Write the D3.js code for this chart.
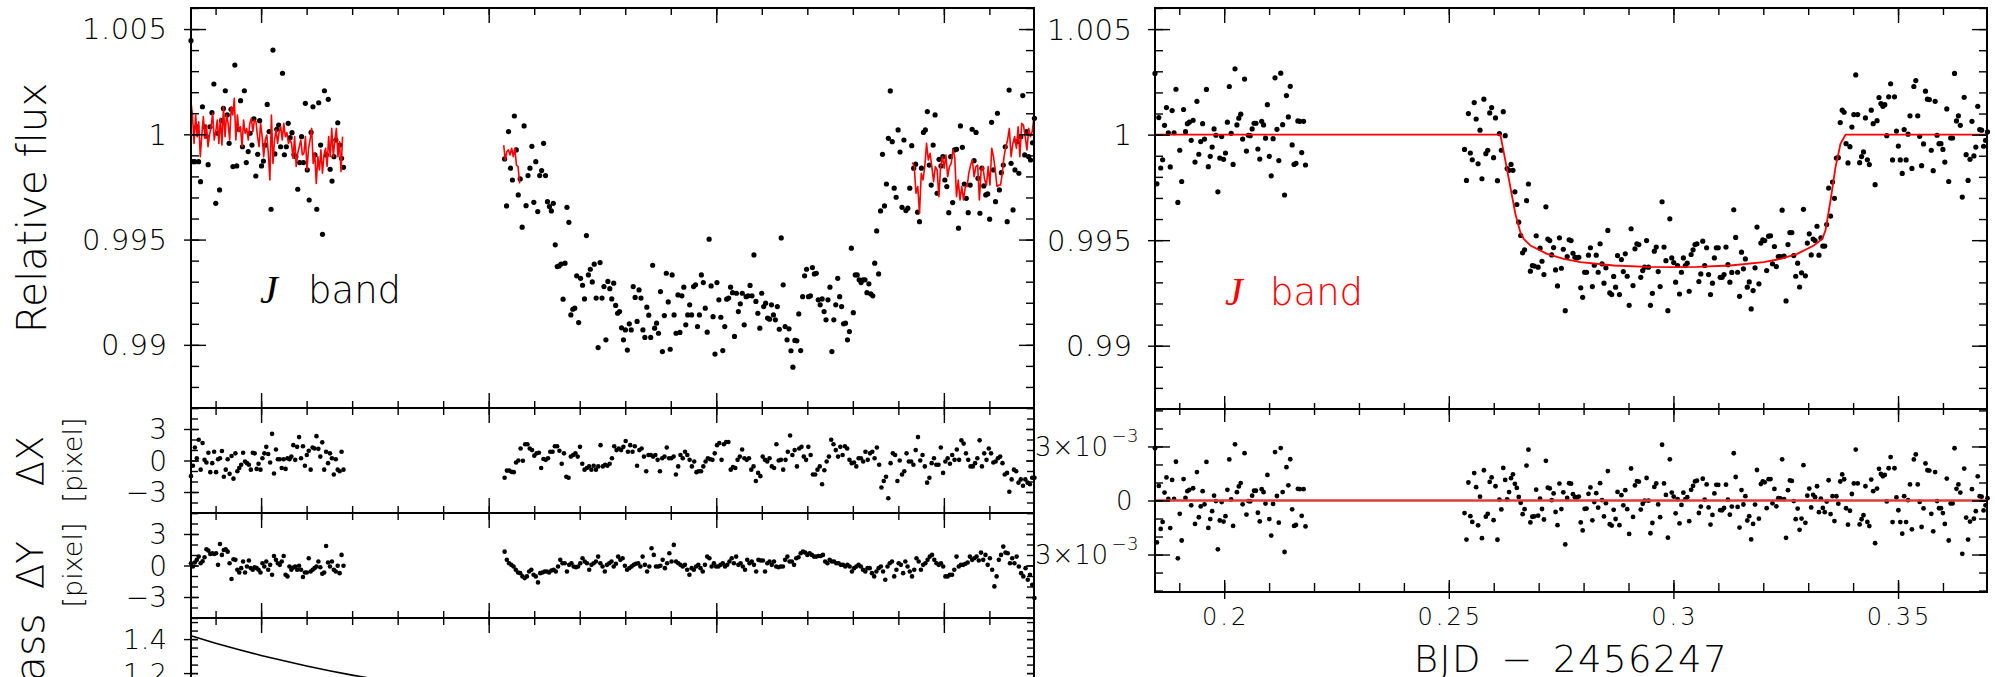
<!DOCTYPE html>
<html>
<head>
<meta charset="utf-8">
<script src="https://cdn.jsdelivr.net/npm/d3@7"></script>
<style>
  body { margin: 0; background: #fff; }
  svg { display: block; }
  .lbl { font-family: "DejaVu Sans", sans-serif; font-weight: 200; fill: #000; }
</style>
</head>
<body>
<div id="chart"></div>
<script>
// ---------------- data ----------------
// time is BJD - 2456247 (days); flux values are (relative flux - 1) in parts per thousand

// time ranges covered by the two observing blocks
const preSpan = [0.1846, 0.2181];
const postSpan = [0.2535, 0.3699];

// raw relative flux (left panel)
const rawPre = [4.45,-1.30,-1.30,0.36,-1.30,-2.25,1.31,0.36,-0.08,-1.44,0.36,1.03,2.39,-3.28,0.05,-2.64,0.65,1.23,2.07,0.92,-0.43,1.19,-1.53,3.29,-1.50,0.24,1.60,-0.59,2.07,-1.34,-0.82,0.05,-0.51,0.73,-1.98,-0.95,0.65,-1.50,-1.27,-0.51,1.42,0.13,-3.56,4.00,-0.93,0.24,0.44,-0.59,2.90,-0.97,-0.59,0.52,-0.16,0.08,-0.97,-1.06,-2.61,-1.34,-0.11,-1.34,1.47,-1.69,-3.12,0.09,1.31,-0.98,-3.56,1.50,-0.51,-4.75,2.07,-0.98,1.66,-1.66,-2.22,-1.06,-0.27,0.55,-0.51,-1.14,-1.57];
const rawPost = [-1.17,-3.40,0.13,-1.61,-2.17,0.87,-0.74,-2.88,-2.12,-4.41,0.40,-3.39,-1.96,-1.61,-0.57,-3.23,-1.30,-3.67,-1.96,-1.72,-0.43,-1.96,-3.20,-3.43,-3.64,-3.28,-5.25,-6.28,-6.25,-6.16,-7.83,-6.12,-3.47,-4.18,-8.58,-8.31,-8.26,-6.72,-8.94,-6.84,-7.17,-7.82,-4.81,-6.68,-6.41,-7.01,-6.17,-7.78,-10.13,-6.09,-7.78,-7.23,-9.76,-6.99,-7.33,-7.82,-7.07,-8.13,-8.50,-8.42,-9.19,-9.76,-9.29,-10.25,-9.00,-9.29,-7.23,-7.75,-8.89,-7.39,-7.78,-9.29,-9.65,-8.21,-8.59,-9.65,-6.22,-9.21,-8.97,-9.45,-7.47,-10.32,-8.61,-6.60,-7.96,-10.21,-6.68,-8.58,-9.45,-7.63,-9.41,-7.67,-7.26,-9.05,-8.58,-8.10,-8.58,-7.23,-7.15,-9.13,-8.58,-6.68,-7.04,-8.26,-9.40,-4.98,-7.20,-8.66,-10.44,-7.04,-7.86,-8.69,-10.27,-9.13,-7.83,-7.78,-7.26,-7.52,-9.60,-7.55,-8.42,-8.05,-7.55,-9.05,-7.71,-7.67,-7.18,-7.67,-5.73,-7.94,-8.50,-9.21,-7.55,-8.18,-8.02,-8.73,-8.78,-8.10,-8.58,-8.81,-8.18,-9.26,-4.92,-7.15,-9.13,-9.76,-9.24,-10.28,-11.06,-9.79,-9.81,-8.53,-10.27,-7.71,-6.72,-6.41,-7.71,-7.67,-6.33,-6.63,-6.60,-7.86,-8.10,-7.82,-8.42,-8.81,-7.86,-7.26,-10.32,-8.81,-8.10,-6.84,-7.71,-8.18,-9.00,-8.97,-9.76,-9.37,-5.41,-8.47,-6.68,-6.68,-6.91,-7.04,-6.91,-6.91,-7.52,-7.10,-7.58,-7.67,-6.12,-4.59,-6.63,-3.64,-0.95,-3.40,-2.36,-0.19,2.06,-0.35,-2.56,-2.99,0.21,-0.84,-3.47,-0.27,-3.62,-3.51,-2.56,-0.54,-1.61,-1.42,-3.70,-4.15,-1.61,0.09,0.21,1.08,-1.46,-2.41,-0.51,0.92,-2.80,-1.19,-1.50,-1.06,-2.17,-2.48,-3.72,-1.06,-3.24,-0.74,-0.71,-4.46,0.40,-0.62,-2.36,-3.04,-3.72,-2.41,0.24,-1.25,0.09,-2.09,-3.75,-1.61,-2.45,-2.88,-2.83,-4.03,0.57,-1.69,-3.20,1.00,-2.64,-1.82,-1.46,-0.59,-4.15,2.10,-1.38,-3.59,-1.69,-0.35,-1.85,-0.11,1.84,-0.98,0.13,-1.06,-1.22,-0.40,0.76];

// baseline (systematics) model, red line in the left panel
const basePreSpan = [0.1846, 0.2179];
const basePre = [1.55,0.84,-0.43,0.92,-0.11,0.60,-1.06,-0.03,0.84,-0.19,0.44,-0.59,-0.03,0.36,1.00,-0.27,0.13,0.68,-0.43,0.76,-0.51,1.31,-0.11,0.92,0.52,-0.27,1.31,0.92,1.71,-0.27,0.92,0.13,0.36,-0.59,0.68,0.05,0.28,-0.27,0.52,0.76,0.13,0.68,0.60,-0.11,-0.59,0.52,-0.11,-1.06,-0.27,-0.03,-0.90,-2.17,0.92,-1.38,-0.27,0.21,-0.43,0.13,0.36,-0.27,0.52,-0.11,0.08,-0.43,-0.27,-0.43,-1.14,-0.11,-1.53,-0.90,-0.59,-0.27,-0.98,-0.90,-0.11,-1.69,-0.66,-0.27,0.28,-1.38,-0.90,-2.33,-1.06,-1.69,-0.74,-1.85,-0.98,-0.66,-1.53,-0.11,-1.06,0.28,-1.06,-0.27,0.28,-1.06,-0.35,-1.77,-0.11];
const baseEarlySpan = [0.2533, 0.2568];
const baseEarly = [-0.51,-1.22,-0.82,-0.74,-0.98,-0.66,-1.06,-0.66,-1.46,-1.53,-2.33];
const baseLateSpan = [0.3431, 0.3698];
const baseLate = [-1.34,-1.53,-2.80,-2.48,-3.75,-1.85,-2.17,-1.53,-0.43,-1.22,-0.90,-1.53,-2.25,-1.53,-1.69,-2.96,-1.53,-1.06,-1.61,-0.98,-2.01,-1.53,-1.38,-0.74,-1.06,-2.96,-2.17,-3.12,-2.48,-3.12,-2.48,-2.48,-1.85,-1.46,-1.22,-2.01,-1.53,-1.46,-3.12,-1.69,-1.53,-2.17,-2.41,-1.53,-2.41,-0.66,-1.06,-1.69,-2.48,-2.41,-2.41,-1.85,-1.06,-0.59,-0.27,0.28,-1.06,-0.43,-0.11,-0.66,0.36,-1.06,0.52,0.44,-0.11,-0.74,0.28,-0.11,0.13,0.84];

// detrended relative flux (right panel)
const detPre = [2.90,-2.33,0.81,-1.58,-1.19,0.44,1.28,0.09,-1.53,1.14,0.09,2.15,-3.21,-0.74,-2.22,1.19,0.14,0.52,0.59,-0.27,0.68,-1.30,1.58,-0.93,-0.33,0.52,-0.21,2.14,-1.52,-1.03,-0.59,0.27,-0.03,-2.71,-1.11,-0.09,-1.17,-0.87,0.59,2.28,0.06,-1.41,3.12,0.46,0.78,0.97,-0.21,2.63,-0.78,-0.03,-0.05,0.27,0.54,0.54,-0.68,-1.16,0.63,0.46,-0.17,1.42,-1.03,-1.95,-0.19,2.69,0.25,-1.23,2.91,0.47,-2.86,1.85,0.84,2.29,-0.49,-1.41,-1.36,0.65,0.63,-0.85,0.63,-1.44];
const detPost = [-0.70,-2.17,1.00,-0.87,-1.19,1.52,0.74,-1.38,0.21,-2.09,1.68,-0.90,-0.74,1.03,1.28,-1.09,0.79,-2.18,0.05,-0.74,1.09,-0.05,-1.61,-1.69,-1.41,-1.69,-2.71,-3.31,-4.15,-4.78,-5.60,-5.46,-3.13,-2.34,-6.47,-6.20,-6.23,-4.79,-6.28,-5.38,-6.00,-6.63,-3.42,-4.95,-5.02,-5.70,-5.35,-6.41,-7.17,-4.89,-6.33,-5.43,-8.34,-5.78,-4.98,-5.02,-5.62,-5.81,-5.84,-5.81,-7.26,-7.71,-6.52,-6.52,-5.71,-5.36,-7.20,-6.19,-5.71,-6.52,-5.17,-6.12,-7.04,-6.31,-4.54,-7.50,-7.58,-6.72,-7.23,-5.73,-7.58,-5.92,-6.49,-5.65,-6.71,-8.09,-4.46,-7.15,-5.41,-5.17,-5.21,-6.76,-6.44,-6.28,-5.02,-6.28,-8.09,-7.52,-5.52,-5.33,-6.49,-7.20,-3.18,-5.33,-5.97,-8.34,-3.99,-5.84,-6.06,-6.99,-6.20,-7.55,-6.52,-5.84,-6.20,-6.09,-7.42,-5.68,-5.46,-5.21,-5.17,-6.96,-6.60,-5.05,-6.20,-5.36,-6.63,-7.58,-7.04,-5.84,-5.36,-5.36,-6.76,-6.76,-6.63,-5.33,-6.16,-6.99,-6.53,-3.56,-4.87,-6.52,-7.66,-5.57,-6.36,-5.89,-7.23,-6.98,-8.26,-7.39,-6.31,-4.38,-7.07,-5.14,-4.98,-5.02,-6.44,-4.81,-4.79,-6.12,-5.30,-6.25,-5.78,-5.78,-3.58,-5.76,-7.88,-5.21,-4.64,-4.64,-5.73,-6.71,-6.09,-7.22,-6.55,-3.54,-6.69,-5.14,-4.70,-5.70,-4.95,-5.02,-4.34,-5.71,-4.89,-5.28,-5.28,-4.26,-2.53,-3.86,-2.25,-3.02,-1.11,-1.09,0.57,1.16,1.06,-0.43,-1.34,-0.57,0.36,0.95,2.83,0.95,-1.33,-1.04,-0.82,0.79,-1.19,-1.42,1.16,0.52,-2.37,0.66,1.76,1.47,1.34,1.42,-0.05,1.79,2.41,-1.20,1.79,0.17,-0.54,-1.20,-1.84,0.24,-1.20,0.02,0.89,-1.60,2.28,2.56,0.89,-0.08,-1.47,-0.44,2.06,1.68,1.66,-0.74,-1.71,1.58,-0.03,-0.43,-0.43,-0.70,-1.30,1.22,-2.22,-0.16,-0.16,2.90,0.65,0.89,0.44,-2.96,1.77,-0.95,-2.17,-1.17,0.63,-1.01,-0.59,1.34,0.24,0.21,-0.55,-0.27,0.13];

// transit model (red curve, right panel)
const modelTime = [0.1846,0.26147,0.26258,0.26370,0.26481,0.26592,0.26667,0.26815,0.27187,0.27557,0.27929,0.28671,0.29414,0.30007,0.30527,0.31269,0.32011,0.32383,0.32755,0.33125,0.33312,0.33385,0.33497,0.33608,0.33719,0.33831,0.3699];
const modelFlux = [0,0,-1.22,-2.48,-3.75,-4.62,-4.94,-5.25,-5.65,-5.89,-6.04,-6.20,-6.27,-6.28,-6.27,-6.20,-6.04,-5.89,-5.65,-5.25,-4.94,-4.54,-3.12,-1.54,-0.43,0,0];

// centroid shifts (pixel)
const dxPre = [-1.49,-0.50,1.24,0.22,1.98,-0.87,1.67,0.06,-0.19,0.74,-1.11,-0.25,0.84,-1.11,0.12,0.22,0.90,-1.55,-0.87,0.12,-1.27,0.43,-1.73,0.68,-1.02,-0.71,-0.40,0.74,-0.09,-0.25,-0.40,-0.87,0.74,0.68,-0.80,-0.31,-0.87,0.22,0.68,1.30,0.62,-0.19,2.54,-1.24,1.05,0.12,0.12,-0.71,0.12,-0.80,0.22,0.12,0.37,1.46,0.06,1.30,2.23,0.22,1.36,-0.50,0.53,0.93,-0.87,1.24,1.15,2.32,1.11,0.37,1.73,-0.87,0.84,-0.25,0.68,0.22,-1.33,0.12,-0.87,-1.02,0.84,-0.87];
const dxPost = [-1.64,-0.96,-0.96,-1.08,-1.11,-0.19,0.00,1.15,-0.03,1.55,1.55,1.15,0.99,0.46,0.68,0.74,-0.71,0.15,0.06,0.22,0.84,0.84,1.36,1.36,0.93,-0.31,0.68,-1.55,-1.64,0.37,0.53,0.68,0.37,1.30,-0.31,-0.87,-0.71,-0.56,-0.87,-0.50,-0.87,-0.56,1.46,-0.56,-0.40,-0.50,-0.31,0.22,1.36,0.99,1.15,0.99,1.30,1.86,0.84,1.46,0.84,1.36,-0.50,0.99,1.15,0.37,-1.02,0.53,0.53,0.37,0.53,0.06,-1.02,0.22,0.37,1.24,0.22,0.22,0.37,-1.33,-0.56,0.53,0.22,0.84,0.53,0.06,-0.56,-0.09,-1.11,-1.02,-1.02,-0.56,-0.09,0.22,0.12,0.06,0.68,1.46,1.67,0.06,1.55,1.76,1.76,-0.87,-0.62,-0.71,0.06,0.37,1.05,0.22,0.06,0.22,-0.87,-0.56,-1.95,-1.18,-1.49,0.37,0.06,-0.09,0.22,-0.56,-0.71,1.55,0.00,0.06,-0.87,0.06,0.84,2.38,0.53,0.99,-0.56,1.15,1.30,0.37,0.06,1.30,0.53,-1.33,-1.33,-0.87,-0.56,-2.26,-0.93,-0.09,0.37,1.98,1.55,0.99,0.37,1.30,0.53,1.36,1.15,0.06,-0.25,-0.19,-0.56,0.22,0.22,-0.09,0.84,0.06,0.68,0.84,0.22,1.24,-0.40,-2.57,-1.95,-1.55,-3.59,-0.25,0.68,0.53,-1.95,0.00,-1.33,-1.02,0.68,-0.09,-0.09,-0.40,0.99,2.23,0.00,0.53,-0.56,-2.11,-1.64,-0.25,0.22,-0.40,-0.40,1.24,-1.18,-0.09,0.22,-0.31,0.53,0.06,1.05,0.06,1.92,1.61,0.68,0.06,-0.56,-0.56,-0.25,0.22,1.92,-0.56,0.68,0.06,1.15,0.68,-0.19,-0.09,0.22,0.37,-0.25,-1.33,-1.18,-2.97,-1.80,-0.87,-1.02,-2.11,-1.80,-2.41,-1.80,-2.11,-2.26,-1.64,-1.64];
const dyPre = [0.22,-0.09,0.28,0.54,0.85,0.22,0.41,0.79,1.55,1.42,1.10,1.17,1.10,1.17,0.06,2.05,1.01,1.48,1.55,1.32,0.22,-1.29,0.60,0.54,-0.41,-0.66,-0.25,0.38,-0.66,-0.09,0.47,-0.25,-0.41,-0.16,-0.25,-0.41,-0.66,0.22,-0.09,0.38,-0.41,0.06,-0.88,0.91,0.54,0.22,0.06,0.38,0.91,-0.88,-1.04,-0.09,-0.41,-0.19,-0.09,-0.41,-0.03,-0.41,-1.10,-0.66,-0.66,0.69,-0.57,-0.41,-0.25,-0.09,0.38,-0.16,-0.79,-0.66,1.86,0.28,-0.09,0.38,-0.41,-0.57,-0.03,-0.73,1.01,-0.03];
const dyPost = [1.32,0.54,0.22,0.06,-0.09,-0.41,-0.66,-0.73,-1.04,-1.20,-1.04,-0.57,-0.41,-0.88,-1.04,-1.61,-0.73,-0.66,-0.57,-0.57,-0.66,-0.47,-0.41,-0.57,-0.09,0.54,0.22,0.22,-0.57,0.06,0.22,-0.09,-0.16,-0.09,0.22,0.69,0.38,0.22,-0.41,0.06,0.22,0.38,0.85,0.22,-0.09,-0.57,0.06,0.22,0.38,-0.09,0.16,0.85,0.54,0.69,-0.03,-0.41,-0.25,-0.09,0.06,0.16,0.22,-0.09,0.85,0.06,-0.57,-0.09,1.64,1.01,-0.09,-0.09,-0.03,0.54,-0.25,0.22,1.17,0.38,1.96,0.38,0.22,0.06,-0.09,0.06,-0.41,-0.88,-0.25,-0.41,-0.09,0.06,-0.25,-0.57,0.06,0.85,0.69,-0.09,0.22,-0.09,-0.09,0.06,0.22,-0.09,0.06,0.38,0.69,0.22,0.85,0.06,0.22,-0.09,-0.41,0.54,0.22,0.38,0.06,-0.57,0.54,0.47,0.47,-0.57,0.22,0.38,0.06,0.38,-0.09,-0.16,-0.09,-0.09,0.54,0.85,0.38,0.38,0.06,0.69,0.79,1.17,1.32,1.23,1.01,1.17,1.01,0.85,0.85,0.91,0.91,1.01,0.38,0.22,0.54,0.38,0.38,0.22,0.22,0.06,0.06,-0.09,0.06,-0.09,-0.57,-0.25,-0.09,0.06,-0.09,-0.41,-0.57,-0.25,-0.25,-0.73,-1.04,-0.57,-0.25,-0.09,-0.57,-1.36,-0.09,0.22,0.38,-1.04,-0.41,0.22,0.06,-0.73,0.38,-0.09,-0.57,-1.04,-0.41,0.69,0.38,-0.41,0.06,0.22,0.54,0.85,1.01,0.54,0.22,0.06,0.22,-0.09,-1.04,-1.04,-0.88,-0.88,-0.41,0.85,-0.09,0.06,0.06,0.16,0.28,0.85,0.54,0.69,0.85,0.47,1.23,0.54,1.01,0.06,0.69,-0.41,-1.99,-1.04,0.54,1.01,1.80,1.23,1.17,0.22,0.69,0.22,0.85,-0.09,-0.73,-1.04,-0.25,-1.36,-0.88,-1.83,-3.09];

// airmass
const airTime = [0.1846,0.19,0.195,0.2,0.205,0.21,0.215,0.22,0.225,0.23,0.235,0.24];
const airMass = [1.419,1.376,1.339,1.304,1.272,1.242,1.214,1.188,1.165,1.145,1.129,1.115];

// axis ranges and tick labels
const timeDomain = [0.1846, 0.3698];
const timeTicks = [0.2, 0.25, 0.3, 0.35];
const timeLabels = ["0.2", "0.25", "0.3", "0.35"];
const fluxDomain = [-13, 6];
const fluxTicks = [-10, -5, 0, 5];
const fluxLabels = ["0.99", "0.995", "1", "1.005"];
const shiftDomain = [-5, 5];
const shiftTicks = [-3, 0, 3];
const shiftLabels = ["\u22123", "0", "3"];
const residDomain = [-5.08, 5.08];
const residTicks = [-3, 0, 3];
const airDomain = [0.524, 1.524];
const airTicks = [0.6, 0.8, 1.0, 1.2, 1.4];
const airLabels = ["0.6", "0.8", "1", "1.2", "1.4"];

// ---------------- helpers ----------------
// spread a block of equally spaced exposures over its time range
function spread(values, span) {
    const step = (span[1] - span[0]) / (values.length - 1);
    return values.map((v, i) => ({ t: span[0] + i * step, v: v }));
}

// one set of tick marks drawn with a d3 axis
function tickSet(g, orient, scale, values, size, pos) {
    const horizontal = orient === d3.axisTop || orient === d3.axisBottom;
    g.append("g")
        .attr("transform", horizontal ? `translate(0,${pos})` : `translate(${pos},0)`)
        .call(orient(scale).tickValues(values).tickSize(size).tickFormat(""))
        .call(a => a.select(".domain").remove())
        .selectAll("line").attr("stroke", "#000").attr("stroke-width", 1.4);
}

// left + right vertical axes of a panel
function yTicks(g, y, major, minor, x0, x1, s) {
    tickSet(g, d3.axisRight, y, minor, s.minIn, x0);
    tickSet(g, d3.axisRight, y, major, s.majIn, x0);
    tickSet(g, d3.axisLeft, y, major, s.majOut, x0);
    tickSet(g, d3.axisLeft, y, minor, s.minIn, x1);
    tickSet(g, d3.axisLeft, y, major, s.majIn, x1);
}

// time ticks along a horizontal line: down = into panel below, up = into panel above
function xTicks(g, x, ypos, down, up) {
    const minor = d3.range(0.19, 0.37, 0.01);
    if (down) {
        tickSet(g, d3.axisBottom, x, minor, down[1], ypos);
        tickSet(g, d3.axisBottom, x, timeTicks, down[0], ypos);
    }
    if (up) {
        tickSet(g, d3.axisTop, x, minor, up[1], ypos);
        tickSet(g, d3.axisTop, x, timeTicks, up[0], ypos);
    }
}

function box(g, x, y) {
    const [x0, x1] = x.range(), [y1, y0] = y.range();
    g.append("rect").attr("x", x0).attr("y", y0)
        .attr("width", x1 - x0).attr("height", y1 - y0)
        .attr("fill", "none").attr("stroke", "#000").attr("stroke-width", 2);
}

function dots(g, x, y, data, r) {
    g.append("g").selectAll("circle")
        .data(data)
        .enter()
        .append("circle")
        .attr("cx", d => x(d.t))
        .attr("cy", d => y(d.v))
        .attr("r", r)
        .attr("fill", "#000");
}

function curve(g, x, y, data, color, width) {
    const line = d3.line().x(d => x(d.t)).y(d => y(d.v));
    g.append("path").attr("d", line(data))
        .attr("fill", "none").attr("stroke", color)
        .attr("stroke-width", width).attr("stroke-linejoin", "round");
}

// right aligned tick labels
function yLabels(g, y, values, labels, xEnd, size, spacing) {
    g.selectAll(null)
        .data(values)
        .enter()
        .append("text")
        .attr("class", "lbl")
        .attr("x", xEnd + spacing)
        .attr("y", d => y(d))
        .attr("dy", "0.36em")
        .attr("text-anchor", "end")
        .style("font-size", size + "px")
        .style("letter-spacing", spacing + "px")
        .text((d, i) => labels[i]);
}

// rotated axis title, xBase is the baseline position
function sideTitle(g, xBase, yMid, size, label, spacing) {
    return g.append("text").attr("class", "lbl")
        .attr("transform", `translate(${xBase},${yMid}) rotate(-90)`)
        .attr("text-anchor", "middle")
        .style("font-size", size + "px")
        .style("letter-spacing", spacing + "px")
        .text(label);
}

function bandLabel(g, xJ, xBand, yBase, color) {
    const t = g.append("text").attr("class", "lbl").attr("y", yBase)
        .style("font-size", "37px").style("fill", color);
    t.append("tspan").attr("x", xJ)
        .style("font-family", "'Liberation Serif', serif").style("font-style", "italic")
        .style("font-weight", "normal").style("font-size", "40px")
        .text("J");
    t.append("tspan").attr("x", xBand).text("band");
}

// ---------------- chart ----------------
const svg = d3.select("#chart")
    .append("svg")
    .attr("width", 1995)
    .attr("height", 677);
svg.append("rect").attr("width", 1995).attr("height", 677).attr("fill", "#fff");

// scales
const xL = d3.scaleLinear().domain(timeDomain).range([191, 1034]);
const xR = d3.scaleLinear().domain(timeDomain).range([1155, 1987]);
const yMainL = d3.scaleLinear().domain(fluxDomain).range([408, 8]);
const yDx = d3.scaleLinear().domain(shiftDomain).range([513, 408]);
const yDy = d3.scaleLinear().domain(shiftDomain).range([618, 513]);
const yAir = d3.scaleLinear().domain(airDomain).range([788, 618]);
const yMainR = d3.scaleLinear().domain(fluxDomain).range([409, 8]);
const yRes = d3.scaleLinear().domain(residDomain).range([592, 409]);

const fluxMinor = d3.range(-13, 6.01, 1);
const shiftMinor = d3.range(-5, 5.01, 1);
const airMinor = d3.range(0.55, 1.52, 0.05);

// ----- right column: detrended light curve + residuals -----
const R = svg.append("g");
const modelAt = d3.scaleLinear().domain(modelTime).range(modelFlux);
const det = spread(detPre, preSpan).concat(spread(detPost, postSpan));
const resid = det.map(d => ({ t: d.t, v: d.v - modelAt(d.t) }));
const model = modelTime.map((t, i) => ({ t: t, v: modelFlux[i] }));

dots(R, xR, yMainR, det, 2.6);
curve(R, xR, yMainR, model, "#ff0000", 1.8);
box(R, xR, yMainR);
yTicks(R, yMainR, fluxTicks, fluxMinor, 1155, 1987, { majIn: 15, majOut: 7, minIn: 8 });
xTicks(R, xR, 8, [15, 7], null);
yLabels(R, yMainR, fluxTicks, fluxLabels, 1132, 29, 0.5);
bandLabel(R, 1225, 1270, 305, "#ff0000");

dots(R, xR, yRes, resid, 2.4);
curve(R, xR, yRes, [{ t: timeDomain[0], v: 0 }, { t: timeDomain[1], v: 0 }], "#e23b3b", 2.3);
box(R, xR, yRes);
yTicks(R, yRes, residTicks, d3.range(-5, 5.01, 1), 1155, 1987, { majIn: 15, majOut: 7, minIn: 8 });
xTicks(R, xR, 409, [13, 6], [13, 6]);
xTicks(R, xR, 592, [7, 0], [12, 9]);

// residual tick labels with powers of ten
residTicks.forEach(v => {
    const t = R.append("text").attr("class", "lbl")
        .attr("x", v === 0 ? 1133 : 1139)
        .attr("y", yRes(v)).attr("dy", "0.36em")
        .attr("text-anchor", "end")
        .style("font-size", "26px").style("letter-spacing", "0.5px");
    if (v === 0) {
        t.text("0");
    } else {
        t.append("tspan").text((v < 0 ? "\u2212" : "") + "3\u00d710");
        t.append("tspan").attr("dy", -14).attr("dx", 3)
            .style("font-size", "18px").text("\u22123");
    }
});

// time tick labels
R.selectAll(null)
    .data(timeTicks)
    .enter()
    .append("text")
    .attr("class", "lbl")
    .attr("x", d => xR(d) + 1.5)
    .attr("y", 625)
    .attr("text-anchor", "middle")
    .style("font-size", "24px")
    .style("letter-spacing", "3px")
    .text((d, i) => timeLabels[i]);

R.append("text").attr("class", "lbl")
    .attr("x", 1571).attr("y", 672)
    .attr("text-anchor", "middle")
    .style("font-size", "37px").style("letter-spacing", "1.5px").style("word-spacing", "6px")
    .text("BJD \u2212 2456247");

// ----- left column: raw light curve and diagnostics -----
const L = svg.append("g");
L.append("rect").attr("x", 191).attr("y", 8)
    .attr("width", 1034 - 191).attr("height", 780).attr("fill", "#fff");

const raw = spread(rawPre, preSpan).concat(spread(rawPost, postSpan));
dots(L, xL, yMainL, raw, 2.6);
curve(L, xL, yMainL, spread(basePre, basePreSpan), "#ff0000", 1.6);
curve(L, xL, yMainL, spread(baseEarly, baseEarlySpan), "#ff0000", 1.6);
curve(L, xL, yMainL, spread(baseLate, baseLateSpan), "#ff0000", 1.6);
box(L, xL, yMainL);
yTicks(L, yMainL, fluxTicks, fluxMinor, 191, 1034, { majIn: 15, majOut: 7, minIn: 8 });
xTicks(L, xL, 8, [15, 7], null);
yLabels(L, yMainL, fluxTicks, fluxLabels, 167, 29, 0.5);
bandLabel(L, 260, 308, 303, "#000");
sideTitle(L, 46, 208, 41, "Relative flux", -0.3);

// centroid shifts
const dx = spread(dxPre, preSpan).concat(spread(dxPost, postSpan));
const dy = spread(dyPre, preSpan).concat(spread(dyPost, postSpan));
dots(L, xL, yDx, dx, 2.3);
dots(L, xL, yDy, dy, 2.3);
box(L, xL, yDx);
box(L, xL, yDy);
yTicks(L, yDx, shiftTicks, shiftMinor, 191, 1034, { majIn: 8, majOut: 7, minIn: 7 });
yTicks(L, yDy, shiftTicks, shiftMinor, 191, 1034, { majIn: 8, majOut: 7, minIn: 7 });
yLabels(L, yDx, shiftTicks, shiftLabels, 167, 28, 0);
yLabels(L, yDy, shiftTicks, shiftLabels, 167, 28, 0);
sideTitle(L, 43, 461, 37, "\u0394X", 0);
sideTitle(L, 82, 460, 27, "[pixel]", 0);
sideTitle(L, 43, 565, 37, "\u0394Y", 0);
sideTitle(L, 82, 565, 27, "[pixel]", 0);

// airmass
const air = airTime.map((t, i) => ({ t: t, v: airMass[i] }));
curve(L, xL, yAir, air, "#000", 1.6);
box(L, xL, yAir);
yTicks(L, yAir, airTicks, airMinor, 191, 1034, { majIn: 7, majOut: 7, minIn: 7 });
yLabels(L, yAir, airTicks, airLabels, 167, 27, 0.5);
sideTitle(L, 44, 695, 41, "Airmass", 0);

xTicks(L, xL, 408, [15, 7], [15, 7]);
xTicks(L, xL, 513, [15, 7], [15, 7]);
xTicks(L, xL, 618, [15, 7], [15, 7]);
</script>
</body>
</html>
